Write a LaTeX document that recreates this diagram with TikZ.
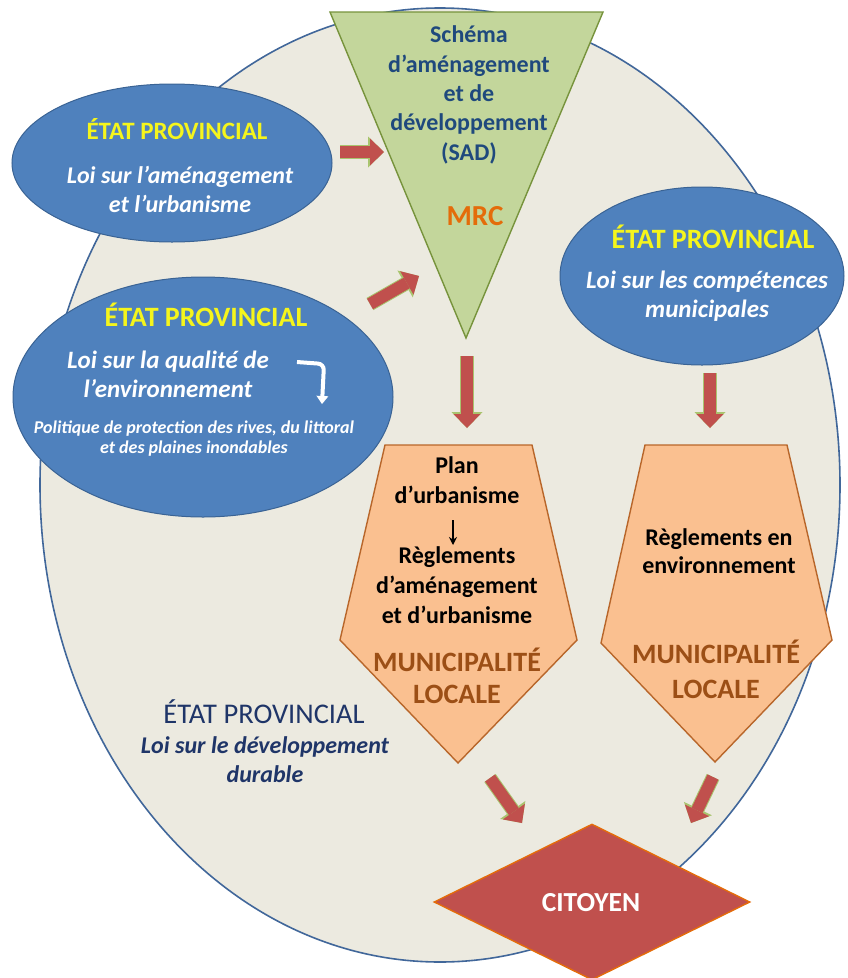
\documentclass[tikz,border=0pt]{standalone}
\usepackage{fontspec}
\setmainfont{Carlito}
\usetikzlibrary{arrows.meta,positioning,shapes.geometric}
\definecolor{zonebg}{HTML}{ECEAE0}
\definecolor{zoneline}{HTML}{41679A}
\definecolor{loiblue}{HTML}{4F81BD}
\definecolor{loiline}{HTML}{3A6394}
\definecolor{sadgreen}{HTML}{C3D69B}
\definecolor{sadline}{HTML}{77933C}
\definecolor{sadtext}{HTML}{1F497D}
\definecolor{mrcorange}{HTML}{E46C0A}
\definecolor{munifill}{HTML}{FAC090}
\definecolor{muniline}{HTML}{B8662A}
\definecolor{munitext}{HTML}{9C4F16}
\definecolor{citred}{HTML}{C0504D}
\definecolor{citline}{HTML}{E46C0A}
\definecolor{pushred}{HTML}{C0504D}
\definecolor{pushedge}{HTML}{A9C46E}
\definecolor{ttlyellow}{HTML}{F5F51C}
\definecolor{durable}{HTML}{1F3568}
\tikzset{
  zone/.style={ellipse,draw=zoneline,line width=1.6pt,fill=zonebg,inner sep=0pt},
  loi/.style={ellipse,draw=loiline,line width=1pt,fill=loiblue,inner sep=0pt},
  muni/.style={draw=muniline,line width=1.4pt,fill=munifill,line join=miter},
  % multi-line texts are placed by the baseline of their last line
  ttl/.style={anchor=base,inner sep=0pt,font=\bfseries\fontsize{28}{30}\selectfont,text=ttlyellow},
  loitxt/.style={anchor=base,inner sep=0pt,align=center,text=white,
    font=\bfseries\itshape\fontsize{25}{29}\selectfont},
  sadtxt/.style={anchor=base,inner sep=0pt,align=center,text=sadtext,
    font=\bfseries\fontsize{24}{29.3}\selectfont},
  regtxt/.style={anchor=base,inner sep=0pt,align=center,text=black,
    font=\bfseries\fontsize{24}{30}\selectfont},
  munitxt/.style={anchor=base,inner sep=0pt,align=center,text=munitext,
    font=\bfseries\fontsize{28}{32}\selectfont},
  % --- the thick red block arrows ---
  push/.style={line width=12pt,draw=pushred,
    -{Triangle[length=14pt,width=27pt,line width=0pt]},
    preaction={draw=pushedge,line width=14pt,-{Triangle[length=16pt,width=31pt,line width=0pt]}}},
}
\begin{document}
\begin{tikzpicture}[x=1pt,y=-1pt]
  \useasboundingbox (0,0) rectangle (848,978);
  \node[zone,minimum width=800pt,minimum height=954pt] (zone) at (440,485) {};

  % SAD triangle
  \draw[draw=sadline,line width=1.4pt,fill=sadgreen,line join=miter]
    (330,12) -- (603,12) -- (466,338) -- cycle;
  \node[sadtxt] (sad) at (469,160)
    {Schéma\\d’aménagement\\et de\\développement\\(SAD)};
  \node[anchor=base,inner sep=0pt,font=\bfseries\fontsize{29}{30}\selectfont,text=mrcorange] (mrc) at (475,225) {MRC};

  % provincial laws
  \node[loi,minimum width=320pt,minimum height=158pt] (ell1) at (172,163) {};
  \node[ttl,font=\bfseries\fontsize{25}{28}\selectfont] (t1) at (177,139) {ÉTAT PROVINCIAL};
  \node[loitxt,font=\bfseries\itshape\fontsize{24}{29}\selectfont] (l1) at (180,212) {Loi sur l’aménagement\\et l’urbanisme};

  \node[loi,minimum width=380pt,minimum height=240pt] (ell2) at (203,397) {};
  \node[ttl] (t2) at (206,326) {ÉTAT PROVINCIAL};
  \node[loitxt] (l2) at (168,397) {Loi sur la qualité de\\l’environnement};
  \node[loitxt,font=\bfseries\itshape\fontsize{18}{20}\selectfont] (p2) at (194,453)
    {Politique de protection des rives, du littoral\\et des plaines inondables};
  \coordinate (w0) at (297,362);
  \coordinate (w1) at (324,364);
  \coordinate (w2) at (322,404);
  \draw[white,line width=4pt,rounded corners=6pt,-{Triangle[length=8pt,width=12pt,line width=0pt]}]
    (w0) -- (w1) -- (w2);

  \node[loi,minimum width=284pt,minimum height=178pt] (ell3) at (702,276) {};
  \node[ttl] (t3) at (713,248) {ÉTAT PROVINCIAL};
  \node[loitxt] (l3) at (707,317) {Loi sur les compétences\\municipales};

  % local municipalities
  \draw[muni] (385,445) -- (532,445) -- (577,640) -- (458,763) -- (340,640) -- cycle;
  \node[regtxt] (plan) at (457,503) {Plan\\d’urbanisme};
  \coordinate (b0) at (453,520);
  \coordinate (b1) at (453,545);
  \draw[line width=1.8pt,-{Stealth[length=8pt,width=8pt]}] (b0) -- (b1);
  \node[regtxt] (regL) at (457,623) {Règlements\\d’aménagement\\et d’urbanisme};
  \node[munitxt] (muniL) at (457,703) {MUNICIPALITÉ\\LOCALE};

  \draw[muni] (645,445) -- (787,445) -- (832,640) -- (715,762) -- (601,643) -- cycle;
  \node[regtxt,font=\bfseries\fontsize{24}{28}\selectfont] (regR) at (719,573) {Règlements en\\environnement};
  \node[munitxt,font=\bfseries\fontsize{28}{35}\selectfont] (muniR) at (716,698) {MUNICIPALITÉ\\LOCALE};

  % sustainable development
  \node[anchor=base,inner sep=0pt,font=\fontsize{28.5}{30}\selectfont,text=durable] (t4) at (264,723) {ÉTAT PROVINCIAL};
  \node[anchor=base,inner sep=0pt,align=center,text=durable,
    font=\bfseries\itshape\fontsize{24}{29}\selectfont] (l4) at (265,782) {Loi sur le développement\\durable};

  % citizen
  \node[diamond,aspect=2,draw=citline,line width=1.4pt,fill=citred,inner sep=0pt,
    minimum width=316pt,minimum height=156pt] (cit) at (592,902) {};
  \node[anchor=base,inner sep=0pt,font=\bfseries\fontsize{27.5}{30}\selectfont,text=white] (citn) at (591,911) {CITOYEN};

  % red block arrows
  \coordinate (a1s) at (340,152); \coordinate (a1e) at (384,152);
  \coordinate (a2s) at (370,304); \coordinate (a2e) at (419,276);
  \coordinate (a3s) at (467,356); \coordinate (a3e) at (467,428);
  \coordinate (a4s) at (710,373); \coordinate (a4e) at (710,428);
  \coordinate (a5s) at (490,778); \coordinate (a5e) at (522,823);
  \coordinate (a6s) at (713,777); \coordinate (a6e) at (691,823);
  \foreach \s/\e in {a1s/a1e,a2s/a2e,a3s/a3e,a4s/a4e,a5s/a5e,a6s/a6e}
    \draw[push] (\s) -- (\e);
\end{tikzpicture}
\end{document}
